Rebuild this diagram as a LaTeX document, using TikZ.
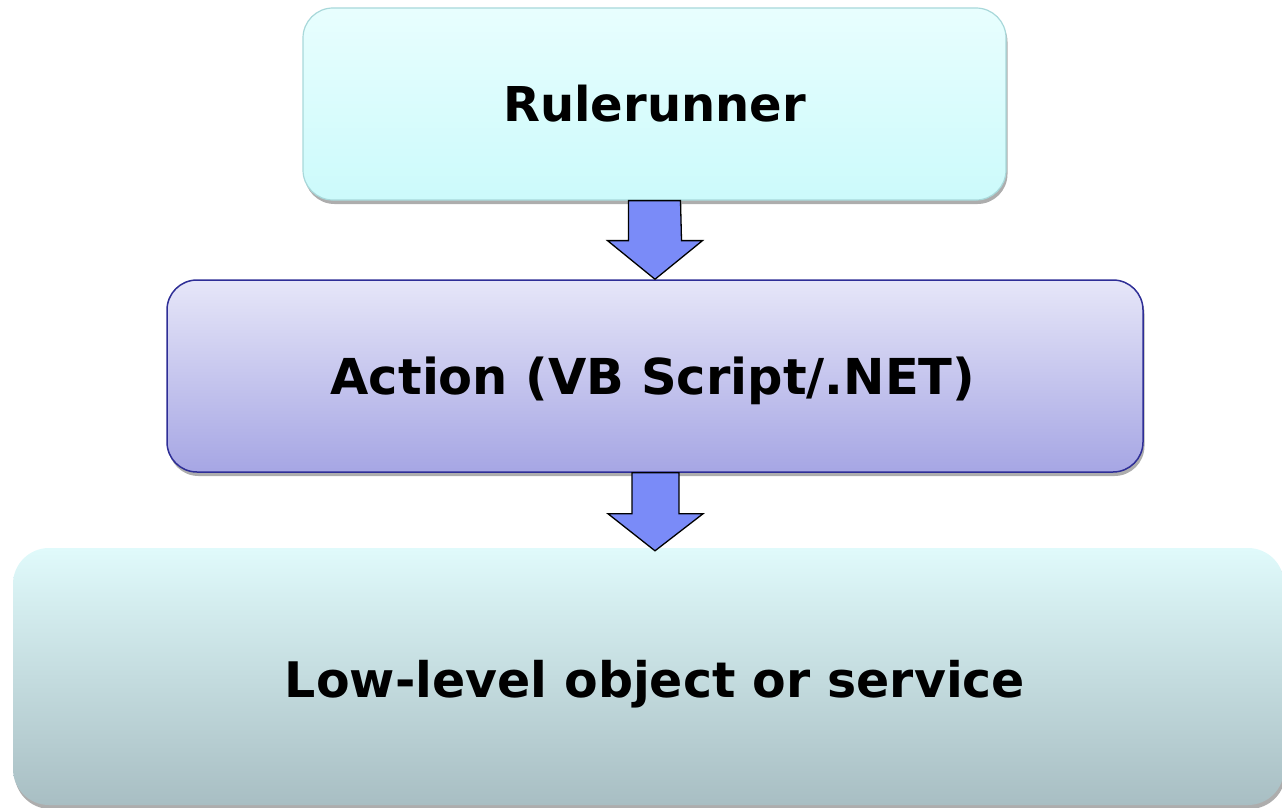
\documentclass[tikz,border=0pt]{standalone}
\usepackage{fontspec}
\setmainfont{DejaVu Sans}
\usetikzlibrary{shadows,calc}
\definecolor{cyanTop}{HTML}{E8FEFE}
\definecolor{cyanBot}{HTML}{CCFAFB}
\definecolor{cyanLine}{HTML}{A8D8DA}
\definecolor{purTop}{HTML}{E6E6F8}
\definecolor{purBot}{HTML}{A6A6E4}
\definecolor{purLine}{HTML}{2E2E96}
\definecolor{lowTop}{HTML}{E0FAFB}
\definecolor{lowBot}{HTML}{A8BEC3}
\definecolor{arrowFill}{HTML}{7A8BF8}
\tikzset{
  x=1pt, y=-1pt,
  box/.style={rounded corners=30pt, shading=axis, shading angle=0,
    drop shadow={shadow xshift=1.5pt, shadow yshift=-4pt, fill=black!40, opacity=0.8},
    inner sep=0pt},
  label text/.style={font=\fontsize{48}{50}\selectfont\bfseries},
  fatarrow/.style={draw=black, line width=1.3pt, fill=arrowFill, line join=miter},
}
\begin{document}
\begin{tikzpicture}
\useasboundingbox (0,0) rectangle (1282,808);
\node[box, label text, draw=cyanLine, line width=1.2pt, top color=cyanTop, bottom color=cyanBot,
      minimum width=703pt, minimum height=192pt] (rr) at (654.5,104) {Rulerunner};
\node[box, draw=purLine, line width=1.5pt, top color=purTop, bottom color=purBot,
      minimum width=976pt, minimum height=192pt] (act) at (655,376) {};
\node[label text, font=\fontsize{49.5}{52}\selectfont\bfseries] (acttxt) at (653,381) {Action (VB Script/.NET)};
\node[box, rounded corners=36pt, top color=lowTop, bottom color=lowBot,
      minimum width=1271pt, minimum height=257pt] (low) at (648.5,676.5) {};
\node[label text, font=\fontsize{49}{52}\selectfont\bfseries] (lowtxt) at (655,684) {Low-level object or service};
% arrows
\draw[fatarrow] ($(rr.south)+(-26,0)$) -- ++(0,40) -- ++(-21,0) -- ($(act.north)$)
  -- ($(rr.south)+(48,40)$) -- ++(-21,0) -- ($(rr.south)+(26,0)$) -- cycle;
\draw[fatarrow] ($(act.south)+(-23,0)$) -- ++(0,41) -- ++(-24,0) -- ($(low.north)+(6.5,3)$)
  -- ($(act.south)+(48,41)$) -- ++(-24,0) -- ($(act.south)+(24,0)$) -- cycle;
\end{tikzpicture}
\end{document}
